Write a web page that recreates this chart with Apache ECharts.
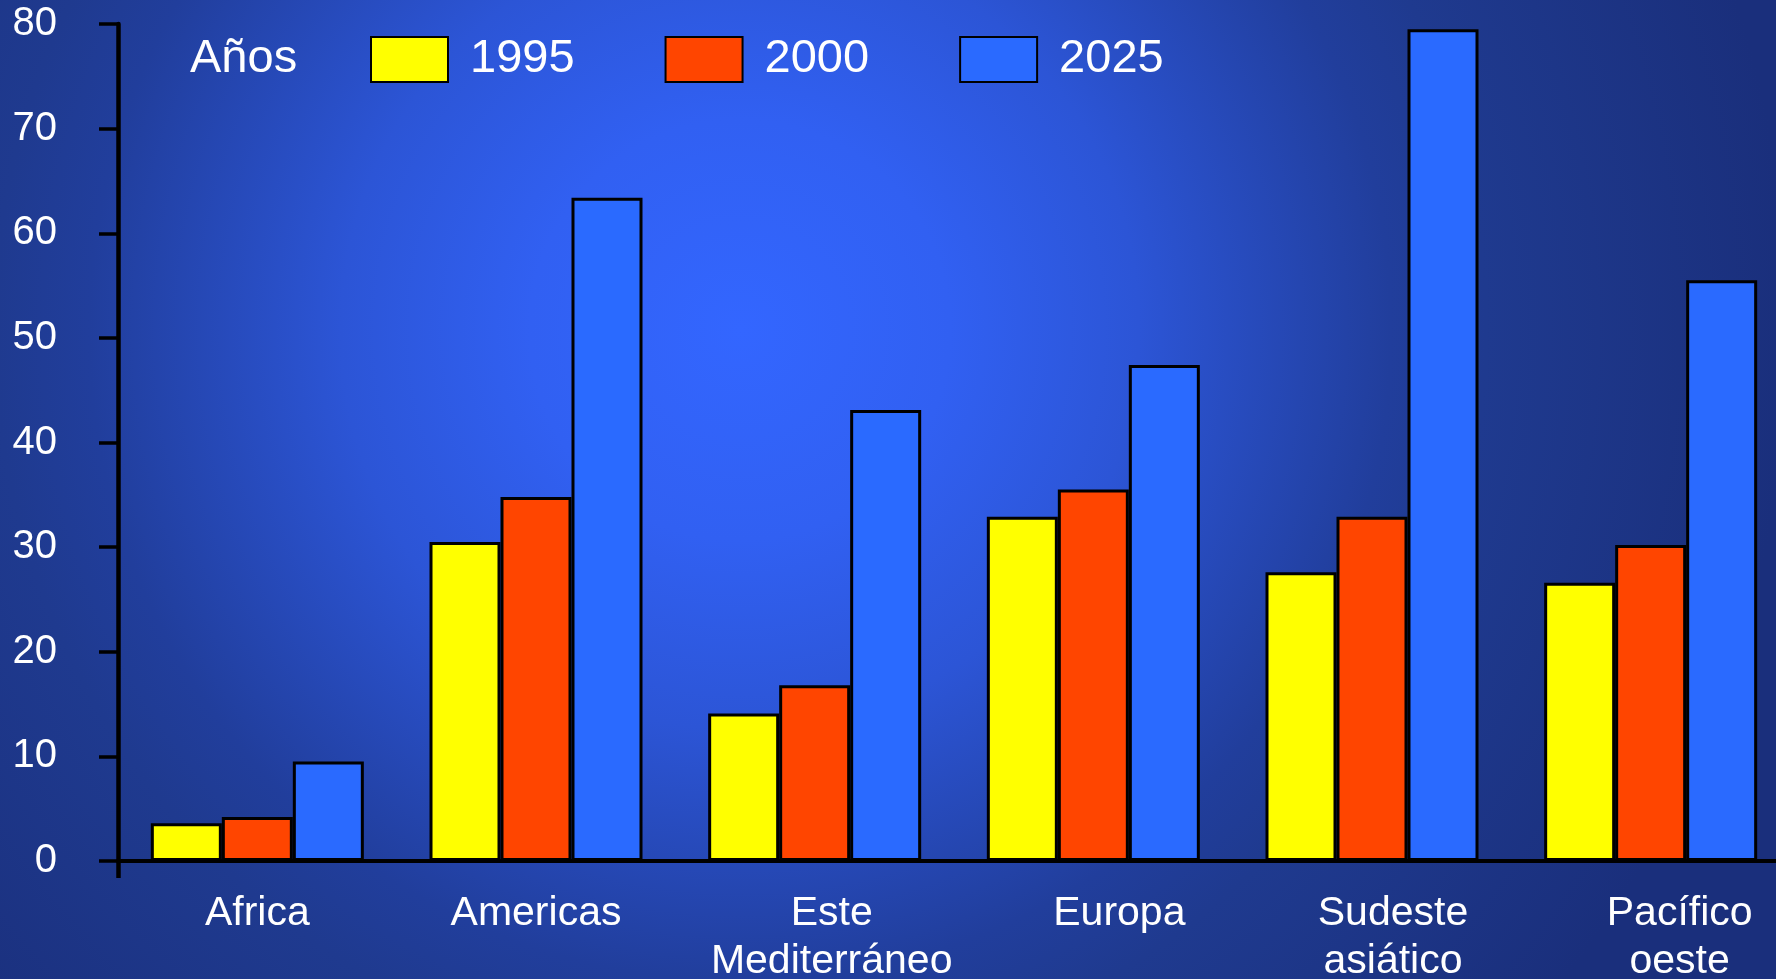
<!DOCTYPE html>
<html>
<head>
<meta charset="utf-8">
<script src="https://cdn.jsdelivr.net/npm/echarts@6/dist/echarts.min.js"></script>
<style>
html,body{margin:0;padding:0;background:#1d3688;}
#c{width:1776px;height:979px;}
</style>
</head>
<body>
<div id="c"></div>
<script>
const categories = ['Africa', 'Americas', 'Este\nMediterráneo', 'Europa', 'Sudeste\nasiático', 'Pacífico\noeste'];
const seriesNames = ['1995', '2000', '2025'];
const v1995 = [3.6, 30.5, 14.1, 32.9, 27.6, 26.6];
const v2000 = [4.2, 34.8, 16.8, 35.5, 32.9, 30.2];
const v2025 = [9.5, 63.4, 43.1, 47.4, 79.5, 55.5];
const yTicks = [0, 10, 20, 30, 40, 50, 60, 70, 80];
const legendTitle = 'Años';

const labelShift = [0, 0, 17, 26, 21, 29];
const colors = ['#FFFF00', '#FF4500', '#2A6AFF'];
const FONT = '"Liberation Sans", Arial, sans-serif';

const chart = echarts.init(document.getElementById('c'), null, {renderer: 'canvas'});

const seriesData = [v1995, v2000, v2025];

const option = {
  animation: false,
  graphic: [
    {
      type: 'rect', z: -100, silent: true,
      shape: {x: 0, y: 0, width: 1776, height: 979},
      style: {
        fill: new echarts.graphic.RadialGradient(740, 330, 1050, [
          {offset: 0, color: '#3366FF'},
          {offset: 0.2, color: '#3160F2'},
          {offset: 0.38, color: '#2C55D6'},
          {offset: 0.62, color: '#213E9C'},
          {offset: 0.71, color: '#1F3A8F'},
          {offset: 1, color: '#1A2F7C'}
        ], true)
      }
    },
    {
      type: 'text', left: 190, top: 36, z: 10,
      style: {text: legendTitle, fill: '#FFFFFF', font: '47px ' + FONT}
    }
  ],
  legend: {
    left: 370, top: 36, padding: 0,
    icon: 'rect',
    itemWidth: 77, itemHeight: 45, itemGap: 90,
    data: seriesNames,
    textStyle: {color: '#FFFFFF', fontSize: 47, fontFamily: FONT, padding: [0, 0, 4, 17]}
  },
  grid: {left: 118, top: 24, width: 1672, height: 837, containLabel: false, outerBoundsMode: 'none'},
  xAxis: {
    type: 'category',
    data: categories.map((c, i) => ({value: c, textStyle: {padding: [0, 0, 0, labelShift[i] * 2]}})),
    boundaryGap: true,
    axisLine: {lineStyle: {color: '#000', width: 4}},
    axisTick: {show: true, interval: (idx) => idx === 0, length: 17, lineStyle: {color: '#000', width: 4.5}},
    axisLabel: {color: '#FFFFFF', fontSize: 41, fontFamily: FONT, margin: 29, lineHeight: 48, interval: 0}
  },
  yAxis: {
    type: 'value', min: yTicks[0], max: yTicks[yTicks.length - 1], interval: yTicks[1] - yTicks[0],
    axisLine: {show: true, lineStyle: {color: '#000', width: 4.5}},
    axisTick: {show: true, length: 19, lineStyle: {color: '#000', width: 3.5}},
    splitLine: {show: false},
    axisLabel: {color: '#FFFFFF', fontSize: 40, fontFamily: FONT, margin: 61}
  },
  series: seriesNames.map((n, i) => ({
    name: n, type: 'bar', data: seriesData[i],
    barWidth: 71, barGap: '0%',
    itemStyle: {color: colors[i], borderColor: '#000', borderWidth: 3}
  }))
};
chart.setOption(option);
</script>
</body>
</html>
